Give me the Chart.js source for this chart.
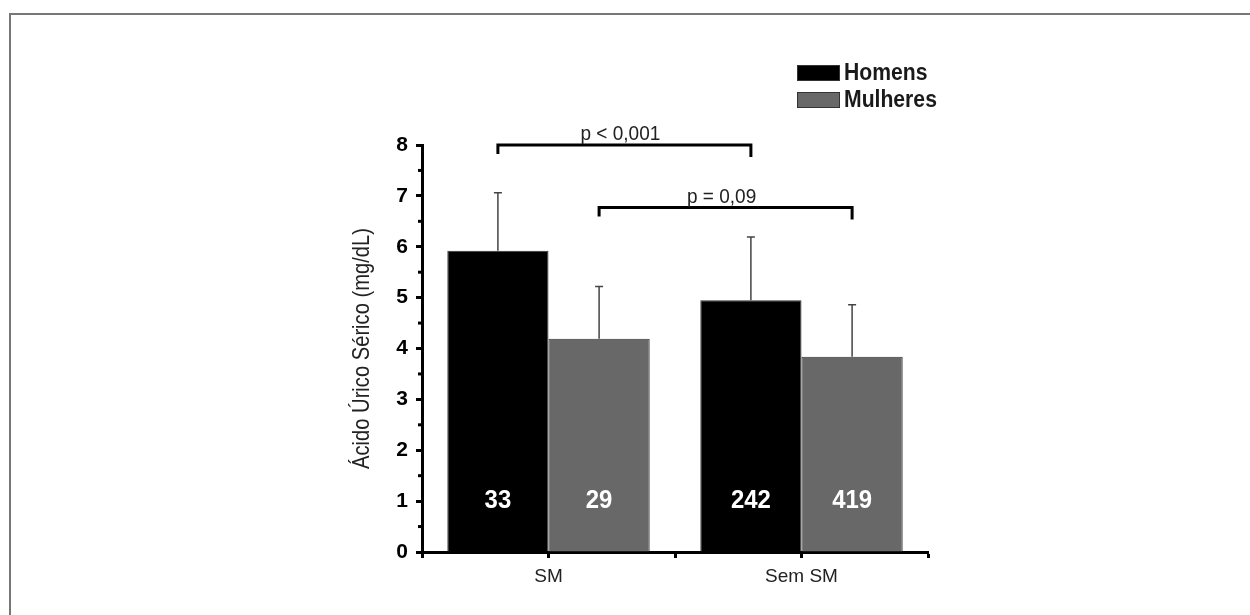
<!DOCTYPE html>
<html>
<head>
<meta charset="utf-8">
<script src="https://cdn.jsdelivr.net/npm/chart.js@4.4.1/dist/chart.umd.min.js"></script>
<style>
  html, body { margin: 0; padding: 0; background: #fff; }
  #wrap { position: relative; width: 1250px; height: 615px; }
  #frame { position: absolute; left: 9px; top: 13px; width: 1250px; height: 615px;
           border-top: 2px solid #777; border-left: 2px solid #777; }
  canvas { position: absolute; left: 0; top: 0; }
</style>
</head>
<body>
<div id="wrap">
  <div id="frame"></div>
  <canvas id="chart" width="1250" height="615"></canvas>
</div>
<script>
const categories = ['SM', 'Sem SM'];
const homens = [5.92, 4.95];
const mulheres = [4.19, 3.84];
const homensSD = [1.14, 1.24];
const mulheresSD = [1.03, 1.02];
const homensN = ['33', '242'];
const mulheresN = ['29', '419'];
const bracketLabels = ['p < 0,001', 'p = 0,09'];
const bracketLevels = [8, 6.77];
const yTitle = 'Ácido Úrico Sérico (mg/dL)';

const errSets = [homensSD, mulheresSD];
const nSets = [homensN, mulheresN];
const FONT = 'Arial, "Liberation Sans", sans-serif';

// text squeezed horizontally, to look like the narrow face of the original
function squeezed(ctx, text, x, y, sx) {
  ctx.save();
  ctx.translate(x, y);
  ctx.scale(sx, 1);
  ctx.fillText(text, 0, 0);
  ctx.restore();
}

const extras = {
  id: 'extras',
  afterDraw(chart) {
    const ctx = chart.ctx;
    const y = chart.scales.y;
    const x = chart.scales.x;
    const area = chart.chartArea;
    ctx.save();

    // error bars (upper only)
    chart.data.datasets.forEach((ds, di) => {
      chart.getDatasetMeta(di).data.forEach((bar, i) => {
        const yTop = y.getPixelForValue(ds.data[i] + errSets[di][i]);
        ctx.strokeStyle = '#444';
        ctx.lineWidth = 1.5;
        ctx.beginPath();
        ctx.moveTo(bar.x, bar.y);
        ctx.lineTo(bar.x, yTop);
        ctx.moveTo(bar.x - 4, yTop);
        ctx.lineTo(bar.x + 4, yTop);
        ctx.stroke();

        // group sizes
        ctx.fillStyle = '#fff';
        ctx.font = 'bold 26px ' + FONT;
        ctx.textAlign = 'center';
        ctx.textBaseline = 'middle';
        squeezed(ctx, nSets[di][i], bar.x, y.getPixelForValue(1), 0.92);
      });
    });

    // minor ticks on y
    ctx.strokeStyle = '#000';
    ctx.lineWidth = 3;
    for (let v = 0.5; v < 8; v += 1) {
      const py = y.getPixelForValue(v);
      ctx.beginPath();
      ctx.moveTo(area.left - 4, py);
      ctx.lineTo(area.left, py);
      ctx.stroke();
    }
    // center ticks on x
    categories.forEach((c, i) => {
      const px = x.getPixelForValue(i);
      ctx.beginPath();
      ctx.moveTo(px, area.bottom);
      ctx.lineTo(px, area.bottom + 6);
      ctx.stroke();
    });

    // y title
    ctx.save();
    ctx.translate(362, (area.top + area.bottom) / 2);
    ctx.rotate(-Math.PI / 2);
    ctx.fillStyle = '#222';
    ctx.font = '24px ' + FONT;
    ctx.textAlign = 'center';
    ctx.textBaseline = 'middle';
    squeezed(ctx, yTitle, 0, 0, 0.84);
    ctx.restore();

    // significance brackets
    const m0 = chart.getDatasetMeta(0).data;
    const m1 = chart.getDatasetMeta(1).data;
    const ends = [[m0[0].x, m0[1].x], [m1[0].x, m1[1].x]];
    ends.forEach((e, k) => {
      const py = y.getPixelForValue(bracketLevels[k]);
      ctx.strokeStyle = '#000';
      ctx.lineWidth = 3;
      ctx.beginPath();
      ctx.moveTo(e[0], py + 9);
      ctx.lineTo(e[0], py);
      ctx.lineTo(e[1], py);
      ctx.lineTo(e[1], py + 12);
      ctx.stroke();
      ctx.fillStyle = '#222';
      ctx.font = '20px ' + FONT;
      ctx.textAlign = 'center';
      ctx.textBaseline = 'alphabetic';
      squeezed(ctx, bracketLabels[k], (e[0] + e[1]) / 2 - 4, py - 5, 0.95);
    });

    // legend
    const lx = 797, ly = [65, 92];
    chart.data.datasets.forEach((ds, di) => {
      ctx.fillStyle = ds.backgroundColor;
      ctx.fillRect(lx, ly[di], 43, 16);
      ctx.strokeStyle = '#333';
      ctx.lineWidth = 1;
      ctx.strokeRect(lx + 0.5, ly[di] + 0.5, 42, 15);
      ctx.fillStyle = '#1a1a1a';
      ctx.font = 'bold 23px ' + FONT;
      ctx.textAlign = 'left';
      ctx.textBaseline = 'middle';
      squeezed(ctx, ds.label, lx + 47, ly[di] + 9, 0.92);
    });
    ctx.restore();
  }
};

new Chart(document.getElementById('chart'), {
  type: 'bar',
  data: {
    labels: categories,
    datasets: [
      { label: 'Homens', data: homens, backgroundColor: '#000000', borderColor: '#333', borderWidth: 1 },
      { label: 'Mulheres', data: mulheres, backgroundColor: '#686868', borderColor: '#333', borderWidth: 1 }
    ]
  },
  options: {
    responsive: false,
    animation: false,
    categoryPercentage: 0.8,
    barPercentage: 1.0,
    layout: { padding: { left: 348, right: 322, top: 145, bottom: 0 } },
    plugins: { legend: { display: false }, tooltip: { enabled: false } },
    scales: {
      y: {
        min: 0,
        max: 8,
        afterFit(s) { s.width = 74; },
        ticks: {
          stepSize: 1,
          color: '#000',
          padding: 8,
          font: { family: FONT, size: 21, weight: 'bold' }
        },
        grid: { drawOnChartArea: false, drawTicks: true, tickLength: 6, tickWidth: 3, tickColor: '#000' },
        border: { display: true, color: '#000', width: 3 }
      },
      x: {
        afterFit(s) { s.height = 63; },
        ticks: {
          color: '#222',
          padding: 7,
          font: { family: FONT, size: 19 }
        },
        grid: { offset: true, drawOnChartArea: false, drawTicks: true, tickLength: 6, tickWidth: 3, tickColor: '#000' },
        border: { display: true, color: '#000', width: 3 }
      }
    }
  },
  plugins: [extras]
});
</script>
</body>
</html>
